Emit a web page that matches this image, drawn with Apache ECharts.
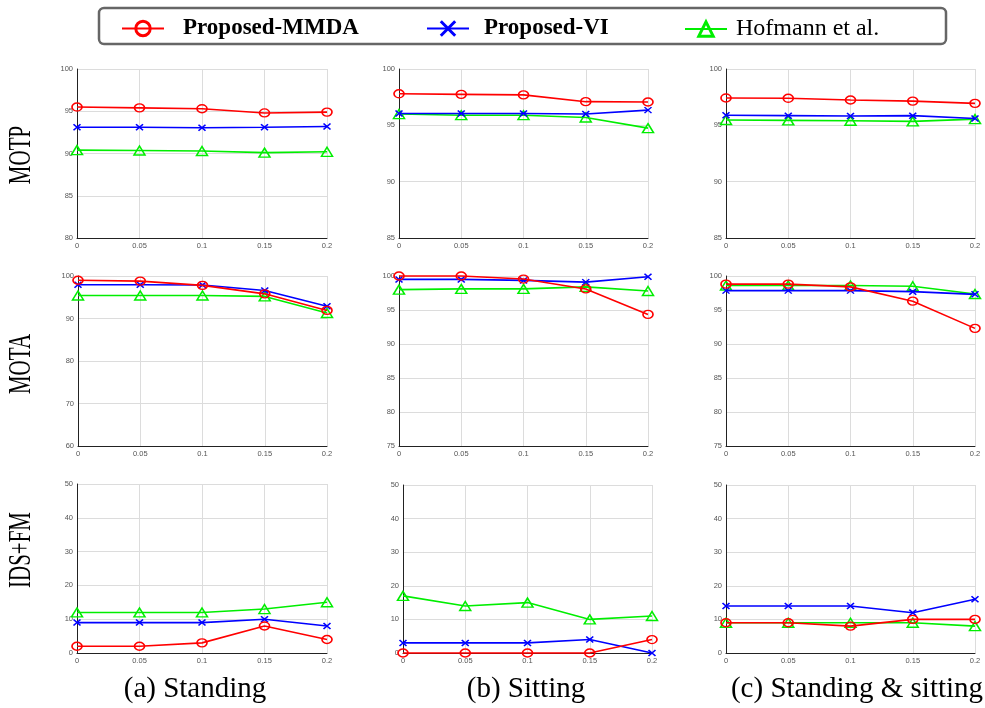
<!DOCTYPE html>
<html>
<head>
<meta charset="utf-8">
<script src="https://cdn.jsdelivr.net/npm/echarts@6/dist/echarts.min.js"></script>
<style>html,body{margin:0;padding:0;background:#fff}#c{width:985px;height:708px}</style>
</head>
<body>
<div id="c"></div>
<script>
// ---- data ----
const xValues = [0, 0.05, 0.1, 0.15, 0.2];
const seriesNames = ['Proposed-MMDA', 'Proposed-VI', 'Hofmann et al.'];
const rowLabels = ['MOTP', 'MOTA', 'IDS+FM'];
const colLabels = ['(a) Standing', '(b) Sitting', '(c) Standing & sitting'];

const motpStandMMDA = [95.5, 95.4, 95.3, 94.8, 94.9];
const motpStandVI   = [93.1, 93.1, 93.05, 93.1, 93.2];
const motpStandHof  = [90.4, 90.35, 90.3, 90.1, 90.2];
const motpSitMMDA   = [97.8, 97.75, 97.7, 97.1, 97.07];
const motpSitVI     = [96.05, 96.05, 96.05, 96.0, 96.35];
const motpSitHof    = [96.0, 95.9, 95.9, 95.7, 94.75];
const motpBothMMDA  = [97.43, 97.4, 97.25, 97.15, 96.95];
const motpBothVI    = [95.9, 95.86, 95.83, 95.86, 95.6];
const motpBothHof   = [95.47, 95.44, 95.41, 95.35, 95.55];

const motaStandMMDA = [99.0, 98.8, 97.8, 95.8, 91.9];
const motaStandVI   = [97.95, 97.95, 97.9, 96.6, 92.9];
const motaStandHof  = [95.4, 95.4, 95.4, 95.2, 91.3];
const motaSitMMDA   = [100, 100, 99.55, 98.1, 94.35];
const motaSitVI     = [99.5, 99.5, 99.35, 99.1, 99.9];
const motaSitHof    = [98.0, 98.1, 98.1, 98.4, 97.8];
const motaBothMMDA  = [98.8, 98.8, 98.4, 96.3, 92.3];
const motaBothVI    = [97.85, 97.85, 97.85, 97.7, 97.3];
const motaBothHof   = [98.6, 98.6, 98.6, 98.5, 97.35];

const idsStandMMDA = [2, 2, 3, 8, 4];
const idsStandVI   = [9, 9, 9, 10, 8];
const idsStandHof  = [12, 12, 12, 13, 15];
const idsSitMMDA   = [0, 0, 0, 0, 4];
const idsSitVI     = [3, 3, 3, 4, 0];
const idsSitHof    = [17, 14, 15, 10, 11];
const idsBothMMDA  = [9, 9, 8, 10, 10];
const idsBothVI    = [14, 14, 14, 12, 16];
const idsBothHof   = [9, 9, 9, 9, 8];

// y-axis ranges [min, max, interval] per panel (row-major)
const yRanges = [
  [80, 100, 5], [85, 100, 5], [85, 100, 5],
  [60, 100, 10], [75, 100, 5], [75, 100, 5],
  [0, 50, 10], [0, 50, 10], [0, 50, 10]
];
const panelData = [
  [motpStandMMDA, motpStandVI, motpStandHof],
  [motpSitMMDA, motpSitVI, motpSitHof],
  [motpBothMMDA, motpBothVI, motpBothHof],
  [motaStandMMDA, motaStandVI, motaStandHof],
  [motaSitMMDA, motaSitVI, motaSitHof],
  [motaBothMMDA, motaBothVI, motaBothHof],
  [idsStandMMDA, idsStandVI, idsStandHof],
  [idsSitMMDA, idsSitVI, idsSitHof],
  [idsBothMMDA, idsBothVI, idsBothHof]
];

// ---- layout / style ----
const grids = [
  {left: 77, top: 69, width: 250, height: 169},
  {left: 399, top: 69, width: 249, height: 169},
  {left: 726, top: 69, width: 249, height: 169},
  {left: 78, top: 276, width: 249, height: 170},
  {left: 399, top: 276, width: 249, height: 170},
  {left: 726, top: 276, width: 249, height: 170},
  {left: 77, top: 484, width: 250, height: 169},
  {left: 403, top: 485, width: 249, height: 168},
  {left: 726, top: 485, width: 249, height: 168}
];
const colors = ['#ff0000', '#0000ff', '#00ee00'];
const symbols = ['circle', 'path://M0,0L10,10M10,0L0,10', 'triangle'];
const symbolSizes = [[10, 8], [7, 6], [11, 9]];
const tickFont = {fontSize: 7.5, color: '#555', fontFamily: 'Liberation Sans'};

const xAxis = [], yAxis = [], series = [];
grids.forEach((g, i) => {
  xAxis.push({
    type: 'value', gridIndex: i, min: 0, max: 0.2, interval: 0.05,
    axisLine: {show: true, onZero: false, lineStyle: {color: '#222', width: 1}},
    axisTick: {show: false},
    axisLabel: Object.assign({margin: 4}, tickFont),
    splitLine: {show: true, lineStyle: {color: '#dcdcdc', width: 1}}
  });
  const r = yRanges[i];
  yAxis.push({
    type: 'value', gridIndex: i, min: r[0], max: r[1], interval: r[2],
    axisLine: {show: true, onZero: false, lineStyle: {color: '#222', width: 1}},
    axisTick: {show: false},
    axisLabel: Object.assign({margin: 4}, tickFont),
    splitLine: {show: true, lineStyle: {color: '#dcdcdc', width: 1}}
  });
  panelData[i].forEach((vals, k) => {
    series.push({
      name: seriesNames[k], type: 'line', xAxisIndex: i, yAxisIndex: i,
      data: xValues.map((x, j) => [x, vals[j]]),
      symbol: symbols[k], symbolSize: symbolSizes[k], clip: false,
      lineStyle: {color: colors[k], width: 1.6},
      itemStyle: {color: 'rgba(0,0,0,0)', borderColor: colors[k], borderWidth: 1.5},
      emphasis: {disabled: true}, animation: false, z: 3 - k
    });
  });
});

const legendLefts = [116, 421, 679];
const legendPads = [14, 10, 4];
const legend = seriesNames.map((n, k) => ({
  data: [{name: n, itemStyle: {color: 'rgba(0,0,0,0)', borderColor: colors[k], borderWidth: 3}}],
  left: legendLefts[k], top: 12, itemWidth: 42, itemHeight: 18,
  selectedMode: false,
  textStyle: {
    fontFamily: 'Liberation Serif', fontSize: k < 2 ? 23 : 24,
    fontWeight: k < 2 ? 'bold' : 'normal', color: '#000', padding: [0, 0, 0, legendPads[k]]
  }
}));

const graphic = [
  {type: 'rect', shape: {x: 99, y: 8, width: 847, height: 36, r: 5},
   style: {fill: '#fff', stroke: '#666', lineWidth: 2.5}, z: -10}
];
const rowY = [155, 364, 550];
rowLabels.forEach((t, i) => graphic.push({
  type: 'text', x: 22, y: rowY[i], rotation: Math.PI / 2, scaleY: 1.5,
  style: {text: t, font: '21px "Liberation Serif"', fill: '#000', align: 'center', verticalAlign: 'middle'}
}));
const colX = [195, 526, 857];
colLabels.forEach((t, i) => graphic.push({
  type: 'text', x: colX[i], y: 689, scaleX: 1.0,
  style: {text: t, font: '29px "Liberation Serif"', fill: '#000', align: 'center', verticalAlign: 'middle'}
}));

const chart = echarts.init(document.getElementById('c'), null, {renderer: 'canvas'});
chart.setOption({
  backgroundColor: '#fff', animation: false,
  grid: grids, xAxis, yAxis, series, legend, graphic
});
</script>
</body>
</html>
